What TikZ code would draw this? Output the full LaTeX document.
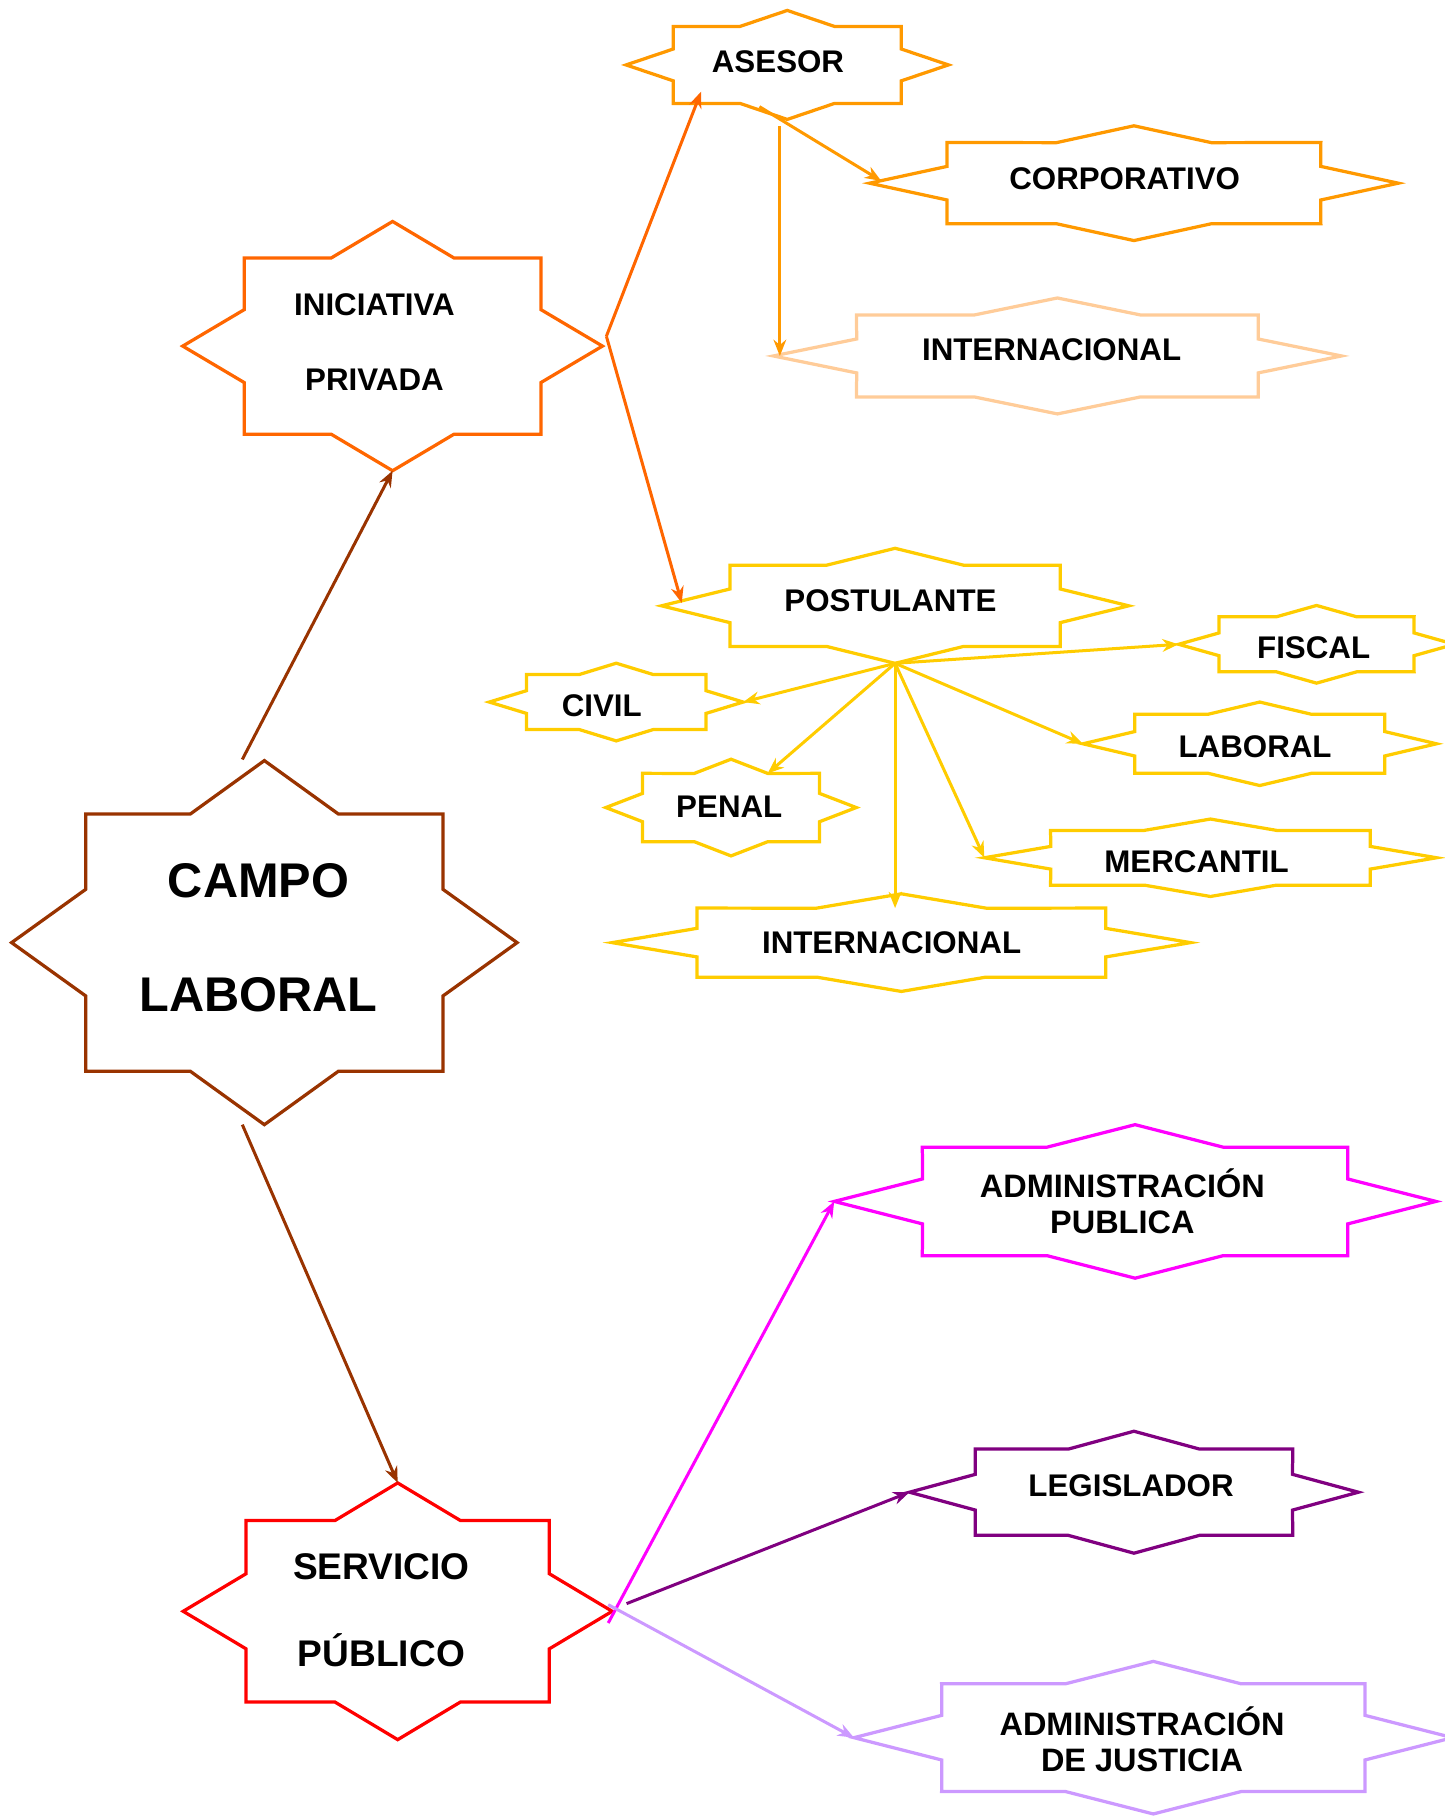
\documentclass[tikz,border=0pt]{standalone}
\usepackage{fontspec}
\setmainfont{Liberation Sans}
\usetikzlibrary{arrows.meta}
\definecolor{cafe}{HTML}{993300}
\definecolor{naranja}{HTML}{FF6600}
\definecolor{ambar}{HTML}{FF9900}
\definecolor{durazno}{HTML}{FFCC99}
\definecolor{oro}{HTML}{FFCC00}
\definecolor{rojo}{HTML}{FF0000}
\definecolor{magenta}{HTML}{FF00FF}
\definecolor{morado}{HTML}{800080}
\definecolor{lila}{HTML}{CC99FF}

% 8-point star: name, cx, cy, half width, half height, colour
\newcommand{\estrella}[6]{%
  \begin{scope}[shift={(#2,#3)}]
    \draw[forma, #6] (#4,0)
      \foreach \k [evaluate=\k as \rad using {mod(\k,2)==0 ? 1 : 0.765}] in {1,...,15}
        { -- ({\rad*#4*cos(22.5*\k)},{\rad*#5*sin(22.5*\k)}) } -- cycle;
    \foreach \k [evaluate=\k as \rad using {mod(\k,2)==0 ? 1 : 0.765}] in {0,...,15}
      \coordinate (#1-\k) at ({\rad*#4*cos(22.5*\k)},{\rad*#5*sin(22.5*\k)});
  \end{scope}}

\begin{document}
\begin{tikzpicture}[
    x=0.5pt, y=-0.5pt,
    >={Stealth[length=7pt,width=5.5pt]},
    forma/.style={line width=1.4pt, line join=miter},
    flecha/.style={->, line width=1.3pt},
    texto/.style={font=\bfseries\fontsize{13.5}{16}\selectfont, align=center, inner sep=0pt}
  ]
  \useasboundingbox (0,0) rectangle (1246,1568);

  % stars
  \estrella{campo}{228}{813}{218}{157}{cafe}
  \estrella{iniciativa}{338.6}{298.5}{181}{107.5}{naranja}
  \estrella{asesor}{679}{56}{139}{47}{ambar}
  \estrella{corporativo}{978}{158}{228}{49.5}{ambar}
  \estrella{internac1}{912}{307}{245}{50}{durazno}
  \estrella{postulante}{772}{522.5}{201.5}{49.6}{oro}
  \estrella{fiscal}{1135.5}{555.7}{119}{33.5}{oro}
  \estrella{civil}{531.5}{605.5}{109.5}{33.5}{oro}
  \estrella{penal}{630.5}{696.5}{108}{41.7}{oro}
  \estrella{laboral}{1086.5}{641.5}{152.5}{36}{oro}
  \estrella{mercantil}{1044}{739.8}{195}{33.4}{oro}
  \estrella{internac2}{777.4}{813}{249.4}{42.1}{oro}
  \estrella{servicio}{343}{1389.7}{185}{110.7}{rojo}
  \estrella{adminpub}{979}{1036.2}{259.5}{66.2}{magenta}
  \estrella{legislador}{978}{1287}{193.6}{52.6}{morado}
  \estrella{adminjus}{994.7}{1498.7}{258.2}{65.8}{lila}

  % labels
  \node[texto, font=\bfseries\fontsize{21}{49}\selectfont] (t-campo) at (223,809) {CAMPO\\LABORAL};
  \node[texto, font=\bfseries\fontsize{13.5}{32}\selectfont] (t-iniciativa) at (323,295) {INICIATIVA\\PRIVADA};
  \node[texto] (t-asesor) at (671,53) {ASESOR};
  \node[texto] (t-corporativo) at (970,154) {CORPORATIVO};
  \node[texto] (t-internac1) at (907,302) {INTERNACIONAL};
  \node[texto] (t-postulante) at (768,518) {POSTULANTE};
  \node[texto] (t-fiscal) at (1133,559) {FISCAL};
  \node[texto] (t-civil) at (519,609) {CIVIL};
  \node[texto] (t-penal) at (629,696) {PENAL};
  \node[texto] (t-laboral) at (1082.5,644) {LABORAL};
  \node[texto] (t-mercantil) at (1032,743) {MERCANTIL};
  \node[texto] (t-internac2) at (769,813) {INTERNACIONAL};
  \node[texto, font=\bfseries\fontsize{16}{37.5}\selectfont] (t-servicio) at (329,1389) {SERVICIO\\PÚBLICO};
  \node[texto, font=\bfseries\fontsize{14}{15.75}\selectfont] (t-adminpub) at (968,1036) {ADMINISTRACIÓN\\PUBLICA};
  \node[texto] (t-legislador) at (975.5,1281) {LEGISLADOR};
  \node[texto, font=\bfseries\fontsize{14}{15.75}\selectfont] (t-adminjus) at (985,1500) {ADMINISTRACIÓN\\DE JUSTICIA};

  % loose ends
  \coordinate (campo-sal1) at (209,655);
  \coordinate (campo-sal2) at (209,970);
  \coordinate (iniciativa-sal) at (523,290);
  \coordinate (asesor-lleg) at (604.7,79);
  \coordinate (postulante-lleg) at (588,520);
  \coordinate (asesor-sal1) at (655,92);
  \coordinate (asesor-sal2) at (672.6,109);
  \coordinate (corporativo-lleg) at (760,156);
  \coordinate (servicio-sal1) at (524.6,1399.8);
  \coordinate (servicio-sal2) at (540.4,1383.1);
  \coordinate (servicio-sal3) at (524.6,1384);

  % connectors
  \draw[flecha, cafe] (campo-sal1) -- (iniciativa-4);
  \draw[flecha, cafe] (campo-sal2) -- (servicio-12);
  \draw[flecha, naranja] (iniciativa-sal) -- (asesor-lleg);
  \draw[flecha, naranja] (iniciativa-sal) -- (postulante-lleg);
  \draw[flecha, ambar] (asesor-sal1) -- (corporativo-lleg);
  \draw[flecha, ambar] (asesor-sal2) -- (asesor-sal2 |- internac1-8);
  \foreach \dest in {fiscal-8, civil-0, penal-13, laboral-8, mercantil-8}
    \draw[flecha, oro] (postulante-4) -- (\dest);
  \draw[flecha, oro] (postulante-4) -- (postulante-4 |- internac2-13);
  \draw[flecha, magenta] (servicio-sal1) -- (adminpub-8);
  \draw[flecha, morado] (servicio-sal2) -- (legislador-8);
  \draw[flecha, lila] (servicio-sal3) -- (adminjus-8);
\end{tikzpicture}
\end{document}
